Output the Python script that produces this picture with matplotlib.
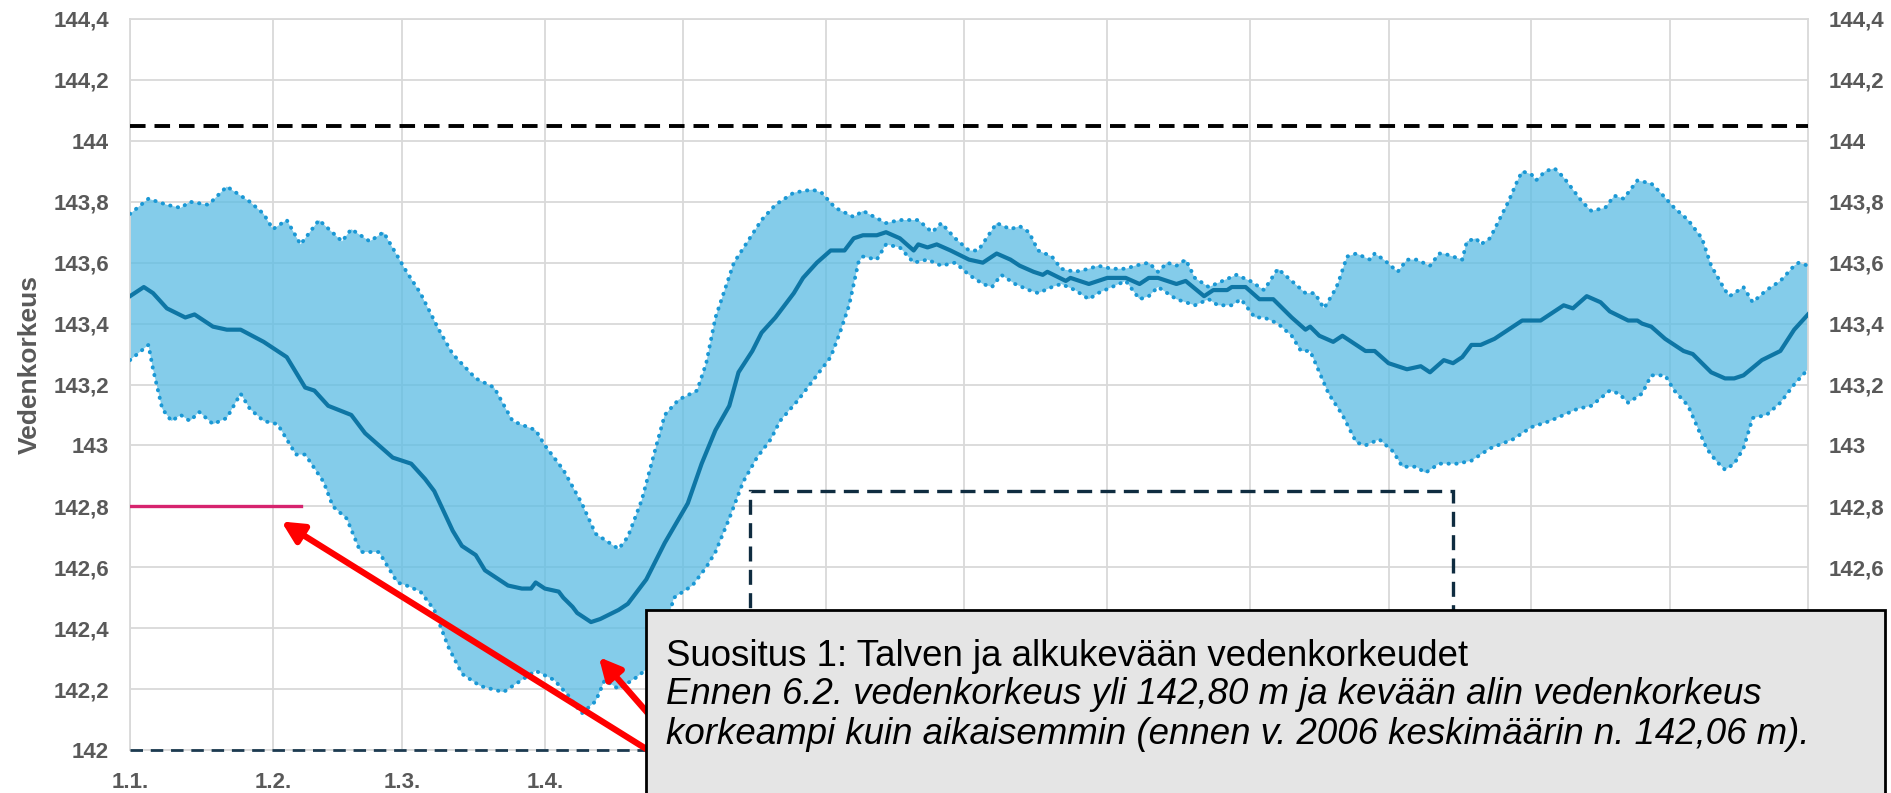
import numpy as np
import matplotlib
matplotlib.use("Agg")
import matplotlib.pyplot as plt
from matplotlib.patches import Rectangle, FancyArrowPatch

plt.rcParams['font.family'] = ['Liberation Sans', 'DejaVu Sans']

# day of year (0 = 1.1.) and water level
mean_days = [0, 3, 5, 8, 12, 14, 18, 21, 24, 29, 31, 34, 36, 38, 40, 43, 48, 51, 54, 57, 61, 64,
             66, 70, 72, 75, 77, 80, 82, 85, 87, 88, 90, 93, 94, 96, 97, 100, 102, 106, 108, 112,
             116, 121, 124, 127, 130, 132, 135, 137, 140, 142, 144, 146, 149, 152, 155, 157, 159,
             162, 164, 167, 170, 171, 173, 175, 178, 182, 185, 188, 191, 193, 196, 198, 199, 203,
             204, 208, 212, 216, 219, 221, 223, 227, 229, 233, 235, 238, 239, 242, 245, 248, 252,
             255, 256, 258, 261, 263, 266, 268, 270, 273, 277, 280, 282, 285, 287, 289, 291, 293,
             296, 299, 302, 306, 308, 311, 313, 316, 319, 321, 325, 327, 328, 330, 333, 337, 339,
             343, 346, 348, 350, 354, 358, 361, 364]
mean_level = [143.49, 143.52, 143.50, 143.45, 143.42, 143.43, 143.39, 143.38, 143.38, 143.34,
              143.32, 143.29, 143.24, 143.19, 143.18, 143.13, 143.10, 143.04, 143.00, 142.96,
              142.94, 142.89, 142.85, 142.72, 142.67, 142.64, 142.59, 142.56, 142.54, 142.53,
              142.53, 142.55, 142.53, 142.52, 142.50, 142.47, 142.45, 142.42, 142.43, 142.46,
              142.48, 142.56, 142.68, 142.81, 142.94, 143.05, 143.13, 143.24, 143.31, 143.37,
              143.42, 143.46, 143.50, 143.55, 143.60, 143.64, 143.64, 143.68, 143.69, 143.69,
              143.70, 143.68, 143.64, 143.66, 143.65, 143.66, 143.64, 143.61, 143.60, 143.63,
              143.61, 143.59, 143.57, 143.56, 143.57, 143.54, 143.55, 143.53, 143.55, 143.55,
              143.53, 143.55, 143.55, 143.53, 143.54, 143.49, 143.51, 143.51, 143.52, 143.52,
              143.48, 143.48, 143.42, 143.38, 143.39, 143.36, 143.34, 143.36, 143.33, 143.31,
              143.31, 143.27, 143.25, 143.26, 143.24, 143.28, 143.27, 143.29, 143.33, 143.33,
              143.35, 143.38, 143.41, 143.41, 143.43, 143.46, 143.45, 143.49, 143.47, 143.44,
              143.41, 143.41, 143.40, 143.39, 143.35, 143.31, 143.30, 143.24, 143.22, 143.22,
              143.23, 143.28, 143.31, 143.38, 143.43]

max_days = [0, 4, 8, 11, 13, 17, 21, 26, 29, 31, 34, 37, 41, 46, 48, 52, 55, 60, 63, 67, 70, 75,
            79, 83, 88, 90, 94, 98, 101, 106, 108, 111, 114, 116, 119, 123, 125, 127, 129, 131,
            134, 137, 140, 144, 148, 150, 153, 157, 159, 164, 167, 171, 174, 176, 179, 182, 184,
            188, 191, 193, 195, 197, 200, 202, 205, 208, 210, 213, 216, 218, 221, 223, 225, 227,
            229, 231, 234, 237, 240, 243, 246, 249, 252, 255, 257, 259, 261, 262, 264, 266, 269,
            270, 272, 275, 277, 279, 282, 284, 285, 289, 290, 292, 293, 295, 297, 299, 301, 302,
            304, 305, 307, 309, 311, 313, 315, 317, 320, 322, 324, 327, 330, 332, 335, 338, 341,
            343, 346, 347, 350, 352, 355, 358, 361, 362, 364]
max_level = [143.76, 143.81, 143.79, 143.78, 143.80, 143.79, 143.85, 143.80, 143.76, 143.71,
             143.74, 143.66, 143.74, 143.67, 143.71, 143.67, 143.70, 143.57, 143.50, 143.38,
             143.30, 143.22, 143.19, 143.08, 143.05, 143.00, 142.92, 142.81, 142.71, 142.66,
             142.70, 142.82, 142.99, 143.10, 143.15, 143.18, 143.27, 143.42, 143.51, 143.60,
             143.67, 143.74, 143.79, 143.83, 143.84, 143.83, 143.78, 143.75, 143.77, 143.73,
             143.74, 143.74, 143.70, 143.73, 143.68, 143.64, 143.64, 143.73, 143.71, 143.72,
             143.70, 143.64, 143.62, 143.58, 143.57, 143.58, 143.59, 143.58, 143.58, 143.59,
             143.60, 143.57, 143.60, 143.59, 143.61, 143.55, 143.52, 143.54, 143.56, 143.54,
             143.51, 143.58, 143.54, 143.50, 143.50, 143.45, 143.50, 143.53, 143.62, 143.63,
             143.61, 143.63, 143.61, 143.57, 143.61, 143.61, 143.59, 143.63, 143.63, 143.61,
             143.67, 143.68, 143.66, 143.68, 143.74, 143.80, 143.87, 143.90, 143.89, 143.87,
             143.90, 143.91, 143.88, 143.84, 143.80, 143.77, 143.78, 143.82, 143.81, 143.87,
             143.86, 143.83, 143.78, 143.74, 143.68, 143.59, 143.51, 143.49, 143.52, 143.47,
             143.51, 143.54, 143.59, 143.60, 143.59]

min_days = [0, 4, 5, 7, 9, 11, 13, 15, 18, 21, 24, 26, 29, 32, 36, 38, 42, 44, 47, 50, 54, 58,
            60, 63, 66, 69, 72, 76, 81, 85, 88, 92, 95, 98, 101, 103, 106, 110, 114, 118, 122,
            125, 127, 130, 133, 136, 139, 141, 145, 149, 152, 154, 156, 158, 159, 162, 164, 167,
            170, 173, 176, 179, 182, 185, 187, 189, 192, 195, 197, 200, 202, 205, 208, 210, 213,
            216, 219, 221, 223, 227, 231, 234, 236, 239, 241, 244, 246, 249, 252, 254, 256, 258,
            260, 263, 266, 268, 271, 274, 276, 279, 281, 284, 288, 291, 295, 300, 304, 308, 311,
            314, 317, 321, 323, 325, 328, 330, 333, 335, 338, 340, 342, 344, 346, 348, 350, 352,
            355, 358, 361, 364]
min_level = [143.28, 143.33, 143.25, 143.12, 143.08, 143.10, 143.08, 143.11, 143.07, 143.09,
             143.17, 143.12, 143.08, 143.07, 142.97, 142.97, 142.88, 142.80, 142.76, 142.65,
             142.65, 142.55, 142.54, 142.52, 142.46, 142.34, 142.25, 142.21, 142.19, 142.23,
             142.26, 142.23, 142.18, 142.12, 142.16, 142.23, 142.20, 142.24, 142.29, 142.50,
             142.54, 142.60, 142.65, 142.76, 142.88, 142.96, 143.02, 143.08, 143.15, 143.23,
             143.29, 143.37, 143.46, 143.60, 143.62, 143.61, 143.66, 143.65, 143.60, 143.61,
             143.59, 143.60, 143.56, 143.53, 143.52, 143.56, 143.53, 143.51, 143.50, 143.52,
             143.53, 143.51, 143.48, 143.50, 143.52, 143.54, 143.48, 143.49, 143.52, 143.48,
             143.46, 143.48, 143.46, 143.46, 143.48, 143.42, 143.42, 143.40, 143.36, 143.31,
             143.31, 143.24, 143.17, 143.10, 143.01, 143.00, 143.02, 142.98, 142.93, 142.93,
             142.91, 142.94, 142.94, 142.95, 142.99, 143.02, 143.06, 143.08, 143.10, 143.12,
             143.13, 143.18, 143.17, 143.14, 143.17, 143.23, 143.23, 143.18, 143.13, 143.06,
             142.99, 142.95, 142.92, 142.94, 142.99, 143.09, 143.10, 143.14, 143.20, 143.25]

month_starts = [0, 31, 59, 90, 120, 151, 181, 212, 243, 273, 304, 334]
month_labels = ['1.1.', '1.2.', '1.3.', '1.4.', '1.5.', '1.6.', '1.7.', '1.8.', '1.9.',
                '1.10.', '1.11.', '1.12.']
y_ticks = [142.0, 142.2, 142.4, 142.6, 142.8, 143.0, 143.2, 143.4, 143.6, 143.8, 144.0, 144.2, 144.4]

upper_limit = 144.05
lowest_limit = 142.0
target_level = 142.80
target_end_day = 37
box_days = (134.5, 287)
box_level = 142.85

W, H = 1891, 793
fig = plt.figure(figsize=(W / 100, H / 100), dpi=100)
ax = fig.add_axes([130 / W, 1 - 750 / H, (1808 - 130) / W, (750 - 19) / H])

grid_col = '#d9d9d9'
label_col = '#595959'

ax.fill(np.concatenate([max_days, min_days[::-1]]),
        np.concatenate([max_level, min_level[::-1]]),
        color='#5bbce4', alpha=0.75, lw=0, zorder=2)
ax.plot(max_days, max_level, color='#1a98d5', lw=2.8, ls=(0, (0.1, 1.9)),
        dash_capstyle='round', zorder=3)
ax.plot(min_days, min_level, color='#1a98d5', lw=2.8, ls=(0, (0.1, 1.9)),
        dash_capstyle='round', zorder=3)
ax.plot(mean_days, mean_level, color='#0e76a5', lw=3, zorder=4)

# reference lines
ax.axhline(upper_limit, color='black', lw=2.8, ls=(0, (4, 2.3)), zorder=5)
ax.axhline(lowest_limit, color='#1c3a50', lw=2.0, ls=(0, (4.5, 2.8)), zorder=5, clip_on=False)
ax.plot([0, target_end_day], [target_level, target_level], color='#d6246e', lw=2.4, zorder=5)
ax.add_patch(Rectangle((box_days[0], 141.9), box_days[1] - box_days[0], box_level - 141.9,
                       fill=False, ec='#0f2c40', lw=2.4, ls=(0, (4.5, 2.5)), zorder=5))

ax.set_xlim(0, 364)
ax.set_ylim(142.0, 144.4)
ax.set_xticks(month_starts)
ax.set_xticklabels(month_labels)
ax.set_yticks(y_ticks)
ax.set_yticklabels([f"{v:g}".replace('.', ',') for v in y_ticks])
ax.grid(True, color=grid_col, lw=1.3, zorder=0)
ax.set_axisbelow(True)
for s in ax.spines.values():
    s.set_color(grid_col)
    s.set_linewidth(1.3)
ax.tick_params(axis='both', length=0, labelsize=16, labelcolor=label_col)
ax.tick_params(axis='y', pad=15, labelright=True)
ax.tick_params(axis='x', pad=16)
for t in ax.get_xticklabels():
    t.set_fontweight('bold')
for tick in ax.yaxis.get_major_ticks():
    tick.label1.set_fontweight('bold')
    tick.label2.set_fontweight('bold')
    tick.label2.set_color(label_col)

fig.text(30 / W, 1 - 364 / H, 'Vedenkorkeus', rotation=90, ha='center', va='center',
         fontsize=19, fontweight='bold', color=label_col)

def fpos(x, y):
    return (x / W, 1 - y / H)

# red arrows (drawn under the text box)
for tip, tail in [((279, 520), (680, 770)), ((597, 655), (680, 750))]:
    fig.add_artist(FancyArrowPatch(fpos(*tail), fpos(*tip), transform=fig.transFigure,
                                   arrowstyle='-|>', mutation_scale=32, lw=4.5,
                                   color='#ff0000', zorder=4))

fig.add_artist(Rectangle(fpos(646, 800), (1885 - 646) / W, (800 - 610) / H,
                         transform=fig.transFigure, fc='#e5e5e5', ec='black', lw=2, zorder=6))
fig.text(*fpos(666, 656), 'Suositus 1: Talven ja alkukevään vedenkorkeudet',
         fontsize=26.4, va='center', zorder=7)
fig.text(*fpos(666, 695), 'Ennen 6.2. vedenkorkeus yli 142,80 m ja kevään alin vedenkorkeus',
         fontsize=26.4, style='italic', va='center', zorder=7)
fig.text(*fpos(666, 734), 'korkeampi kuin aikaisemmin (ennen v. 2006 keskimäärin n. 142,06 m).',
         fontsize=26.4, style='italic', va='center', zorder=7)

fig.savefig('out.png', dpi=100)
